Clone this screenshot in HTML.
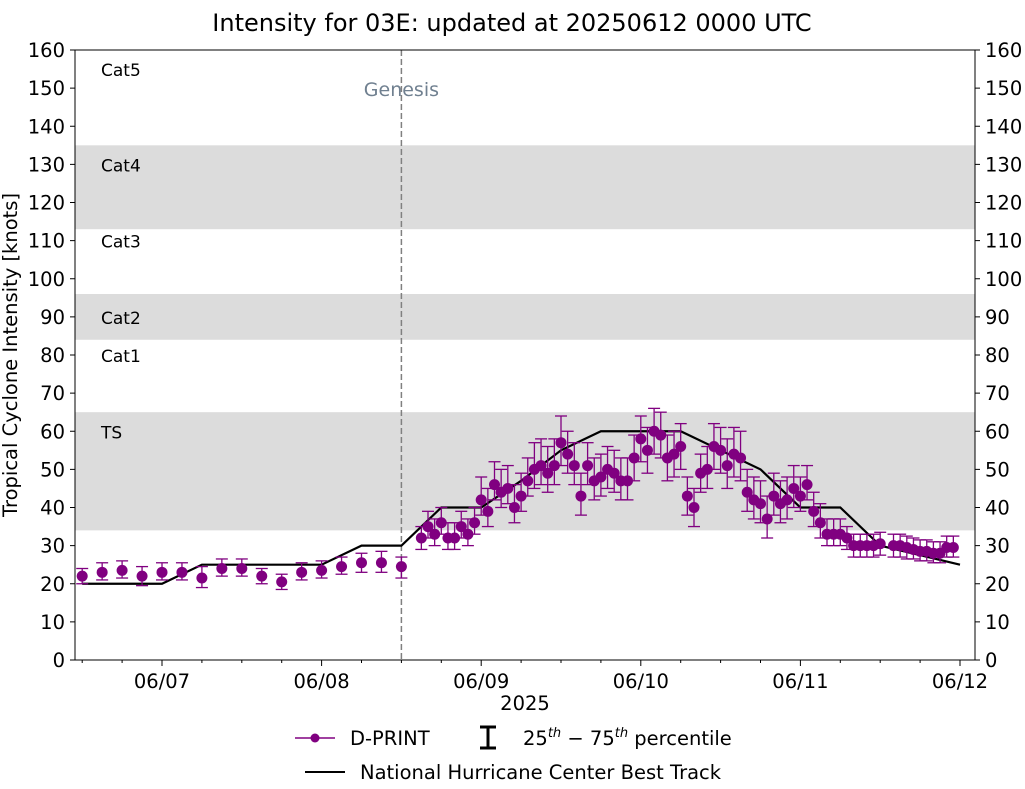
<!DOCTYPE html>
<html><head><meta charset="utf-8"><style>
body{margin:0;background:#fff;font-family:"DejaVu Sans","Liberation Sans",sans-serif;}
svg text{font-family:"DejaVu Sans","Liberation Sans",sans-serif;}
</style></head><body>
<svg id="chart" width="1025" height="785" xmlns="http://www.w3.org/2000/svg">
<text x="512" y="31" font-size="24" text-anchor="middle">Intensity for 03E: updated at 20250612 0000 UTC</text>
<g id="bands"></g>
<g id="grid"></g>
<g id="series"></g>
<rect x="75" y="50" width="900" height="610" fill="none" stroke="#000" stroke-width="1"/>
<text transform="translate(17,355) rotate(-90)" font-size="19.5" text-anchor="middle">Tropical Cyclone Intensity [knots]</text>
<text x="525" y="710" font-size="19.5" text-anchor="middle">2025</text>
<g>
<line x1="295" y1="738" x2="335" y2="738" stroke="#800080" stroke-width="1.5"/>
<circle cx="315" cy="738" r="4.5" fill="#800080"/>
<text x="350" y="745" font-size="19.5">D-PRINT</text>
<line x1="488" y1="727" x2="488" y2="748" stroke="#000" stroke-width="3"/>
<line x1="480" y1="727" x2="496" y2="727" stroke="#000" stroke-width="3"/>
<line x1="480" y1="748" x2="496" y2="748" stroke="#000" stroke-width="3"/>
<text x="523" y="745" font-size="19.5">25<tspan font-size="13" dy="-8" font-style="italic">th</tspan><tspan dy="8"> − 75</tspan><tspan font-size="13" dy="-8" font-style="italic">th</tspan><tspan dy="8"> percentile</tspan></text>
<line x1="305" y1="772" x2="345" y2="772" stroke="#000" stroke-width="2"/>
<text x="360" y="779" font-size="19.5">National Hurricane Center Best Track</text>
</g>
</svg>
<script>
const yTicks=[0,10,20,30,40,50,60,70,80,90,100,110,120,130,140,150,160];
const xTickLabels=["06/07","06/08","06/09","06/10","06/11","06/12"];
const bandRanges=[[34,65],[84,96],[113,135]];
const catLabels=["TS","Cat1","Cat2","Cat3","Cat4","Cat5"];
const catValues=[60,80,90,110,130,155];
const bestHours=[-12,0,6,24,30,36,42,48,54,60,66,78,84,90,96,102,108,120];
const bestVals=[20,20,25,25,30,30,40,40,47,55,60,60,55,50,40,40,30,25];
const dpHours=[-12,-9,-6,-3,0,3,6,9,12,15,18,21,24,27,30,33,36,
39,40,41,42,43,44,45,46,47,48,49,50,51,52,53,54,55,56,57,58,59,60,61,62,63,64,65,66,67,68,69,70,71,72,73,74,75,76,77,78,79,80,81,82,83,84,85,86,87,88,89,90,91,92,93,94,95,96,97,98,99,100,101,102,103,104,105,106,107,108,110,111,112,113,114,115,116,117,118,119];
const dpVals=[22,23,23.5,22,23,23,21.5,24,24,22,20.5,23,23.5,24.5,25.5,25.5,24.5,
32,35,33,36,32,32,35,33,36,42,39,46,44,45,40,43,47,50,51,49,51,57,54,51,43,51,47,48,50,49,47,47,53,58,55,60,59,53,54,56,43,40,49,50,56,55,51,54,53,44,42,41,37,43,41,42,45,43,46,39,36,33,33,33,32,30,30,30,30,30.5,30,30,29.5,29,28.5,28.5,28,28,29.5,29.5];
const dpErrLo=[2,2,2,2.5,2,2,2.5,2,2,2,2,2,2,2,2.5,2.5,3,
3,3,3,3,3,3,3,3,3,4,4,4,4,4,4,4,4,5,5,5,5,6,5,5,5,5,5,5,5,5,5,5,6,6,6,6,6,6,6,6,5,5,5,5,6,6,6,6,6,5,5,5,5,5,5,5,5,4,4,4,4,3,3,3,3,3,3,3,3,3,3,3,3,2.5,2.5,2.5,2.5,2.5,2.5,2.5];
const dpErrHi=[2,2.5,2.5,2.5,2.5,2.5,3,2.5,2.5,2,2,2.5,2.5,2.5,2.5,3,2.5,
3,4,4,4,4,4,4,4,4,6,6,6,6,6,6,6,6,7,7,7,7,7,6,6,6,6,6,6,6,6,6,6,6,6,6,6,6,6,6,6,5,5,5,6,6,6,7,7,7,6,6,6,6,6,6,6,6,5,5,5,5,4,4,4,3,3,3,3,3,3,3,3,3,3,3,3,3,3,3,3];
const NS="http://www.w3.org/2000/svg";
const X0=75,X1=975,Y0=660,Y1=50;
const xs=h=>162+h*159.6/24;
const ys=v=>Y0-(v/160)*(Y0-Y1);
function mk(tag,attrs,parent){const e=document.createElementNS(NS,tag);for(const k in attrs)e.setAttribute(k,attrs[k]);parent.appendChild(e);return e;}
const bands=document.getElementById('bands'),grid=document.getElementById('grid'),ser=document.getElementById('series');
bandRanges.forEach(r=>{const e=mk('rect',{x:X0,y:ys(r[1]),width:X1-X0,height:ys(r[0])-ys(r[1]),fill:'#dcdcdc'},bands);

});
catLabels.forEach((c,i)=>{const t=mk('text',{x:101,y:ys(catValues[i])+7,'font-size':17},bands);t.textContent=c;

});
yTicks.forEach(v=>{const y=ys(v);
mk('line',{x1:X0-5,y1:y,x2:X0,y2:y,stroke:'#000'},grid);
mk('line',{x1:X1,y1:y,x2:X1+5,y2:y,stroke:'#000'},grid);
const a=mk('text',{x:X0-10,y:y+7,'font-size':19.5,'text-anchor':'end'},grid);a.textContent=v;


const b=mk('text',{x:X1+10,y:y+7,'font-size':19.5},grid);b.textContent=v;

});
xTickLabels.forEach((l,i)=>{const x=xs(i*24);
mk('line',{x1:x,y1:Y0,x2:x,y2:Y0+6,stroke:'#000'},grid);
const t=mk('text',{x:x,y:Y0+28,'font-size':19.5,'text-anchor':'middle'},grid);t.textContent=l;

});
for(let h=-12;h<=120;h+=6){if(h%24===0)continue;const x=xs(h);if(x<X0||x>X1)continue;mk('line',{x1:x,y1:Y0,x2:x,y2:Y0+3,stroke:'#000'},grid);}
const gx=xs(36);
const gl=mk('line',{x1:gx,y1:Y1,x2:gx,y2:Y0,stroke:'#808080','stroke-width':1.5,'stroke-dasharray':'6,3'},grid);


const gt=mk('text',{x:gx,y:96,'font-size':19,'text-anchor':'middle',fill:'#708090'},grid);gt.textContent='Genesis';


const bt=mk('polyline',{points:bestHours.map((h,i)=>xs(h)+','+ys(bestVals[i])).join(' '),fill:'none',stroke:'#000','stroke-width':2.2},ser);


dpHours.forEach((h,i)=>{const x=xs(h),v=dpVals[i];const lo=ys(v-dpErrLo[i]),hi=ys(v+dpErrHi[i]);
const g=mk('g',{stroke:'#800080','stroke-width':1.3},ser);


mk('line',{x1:x,y1:lo,x2:x,y2:hi},g);mk('line',{x1:x-6,y1:lo,x2:x+6,y2:lo},g);mk('line',{x1:x-6,y1:hi,x2:x+6,y2:hi},g);});
dpHours.forEach((h,i)=>{const c=mk('circle',{cx:xs(h),cy:ys(dpVals[i]),r:5.5,fill:'#800080'},ser);

});
</script>
</body></html>
